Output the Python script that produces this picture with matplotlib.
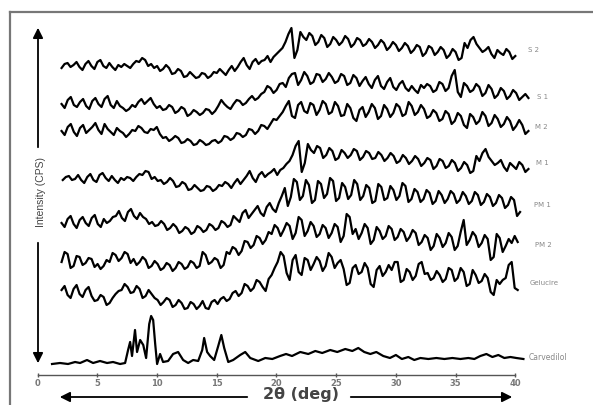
import numpy as np
import matplotlib.pyplot as plt

# XRD patterns, intensity in arbitrary units
s2 = [12, 16, 17, 13, 15, 18, 13, 10, 16, 19, 14, 11, 18, 20, 14, 12, 17, 13, 10, 15,
      13, 16, 14, 12, 16, 19, 18, 22, 20, 14, 16, 12, 14, 9, 11, 15, 12, 6, 7, 11,
      9, 3, 4, 8, 5, 2, 3, 7, 6, 2, 4, 8, 7, 11, 8, 5, 10, 14, 9, 13,
      18, 22, 15, 11, 18, 21, 16, 19, 20, 24, 18, 23, 26, 29, 32, 38, 46, 52, 22, 30,
      48, 43, 40, 47, 44, 35, 38, 45, 42, 33, 36, 43, 40, 35, 38, 44, 41, 33, 36, 42,
      40, 34, 36, 41, 38, 32, 35, 40, 37, 30, 33, 38, 35, 29, 32, 37, 34, 27, 30, 35,
      33, 24, 27, 34, 32, 25, 28, 33, 30, 22, 25, 31, 28, 20, 22, 37, 32, 40, 43, 36,
      32, 28, 30, 33, 26, 22, 30, 27, 25, 31, 28, 21, 24]
s1 = [14, 10, 18, 21, 13, 11, 16, 19, 12, 9, 17, 20, 14, 11, 19, 22, 13, 10, 17, 12,
      10, 7, 9, 13, 11, 16, 19, 14, 17, 20, 14, 10, 12, 8, 9, 13, 11, 5, 7, 11,
      9, 2, 4, 8, 6, 3, 5, 9, 8, 4, 7, 12, 18, 14, 11, 9, 14, 18, 17, 13,
      15, 19, 22, 18, 20, 24, 26, 32, 30, 25, 28, 34, 35, 31, 40, 44, 45, 33, 38, 46,
      42, 34, 36, 44, 43, 36, 39, 45, 41, 35, 37, 44, 42, 33, 35, 43, 40, 32, 37, 41,
      34, 30, 38, 42, 32, 29, 36, 40, 31, 28, 34, 37, 30, 27, 32, 28, 25, 33, 30, 34,
      32, 26, 28, 36, 34, 27, 30, 42, 48, 26, 21, 35, 32, 26, 28, 34, 31, 22, 25, 33,
      29, 20, 23, 30, 27, 19, 22, 28, 25, 18, 21, 24, 20]
m2 = [15, 11, 19, 22, 14, 10, 18, 21, 13, 16, 19, 23, 16, 12, 22, 17, 14, 11, 18, 15,
      13, 9, 12, 16, 15, 20, 18, 14, 13, 17, 16, 19, 12, 8, 9, 5, 7, 10, 8, 3,
      4, 7, 5, 1, 2, 6, 4, 1, 2, 5, 6, 3, 5, 10, 9, 6, 8, 13, 12, 9,
      11, 17, 16, 12, 15, 21, 20, 17, 22, 27, 26, 30, 34, 40, 45, 30, 28, 41, 44, 35,
      33, 43, 41, 31, 36, 45, 42, 32, 34, 44, 40, 30, 31, 42, 38, 28, 25, 36, 39, 29,
      34, 42, 38, 27, 30, 41, 37, 29, 33, 42, 39, 30, 32, 44, 40, 31, 34, 41, 37, 28,
      30, 36, 33, 25, 27, 35, 32, 22, 25, 33, 30, 21, 18, 32, 29, 22, 25, 34, 30, 20,
      23, 31, 27, 19, 22, 29, 25, 16, 20, 26, 21, 12, 15]
m1 = [13, 16, 17, 13, 14, 18, 13, 10, 16, 19, 13, 11, 18, 20, 15, 12, 17, 13, 10, 15,
      13, 16, 15, 12, 16, 19, 18, 22, 21, 14, 16, 12, 13, 9, 11, 15, 12, 6, 7, 11,
      9, 3, 4, 8, 5, 2, 3, 7, 6, 2, 4, 8, 7, 11, 9, 5, 10, 14, 9, 13,
      17, 22, 15, 11, 18, 21, 16, 19, 21, 24, 18, 23, 25, 29, 32, 38, 47, 52, 21, 30,
      49, 43, 40, 47, 45, 35, 38, 45, 42, 33, 35, 43, 40, 35, 38, 44, 42, 33, 36, 42,
      40, 34, 35, 41, 38, 32, 35, 40, 37, 30, 32, 38, 35, 29, 32, 37, 34, 27, 30, 35,
      33, 24, 27, 34, 32, 25, 27, 33, 30, 22, 25, 31, 28, 20, 22, 37, 32, 40, 44, 36,
      32, 28, 30, 33, 26, 22, 30, 27, 24, 31, 28, 21, 24]
pm1 = [13, 9, 17, 20, 12, 8, 16, 19, 13, 10, 18, 21, 12, 9, 17, 13, 15, 19, 20, 25,
       18, 15, 24, 27, 20, 17, 23, 19, 17, 12, 14, 10, 11, 15, 12, 6, 8, 12, 9, 3,
       5, 9, 7, 2, 4, 10, 8, 4, 6, 12, 10, 6, 8, 15, 13, 9, 11, 20, 17, 14,
       23, 26, 18, 22, 26, 30, 23, 20, 29, 33, 27, 24, 33, 40, 48, 30, 39, 57, 54, 36,
       40, 56, 51, 33, 36, 55, 52, 38, 42, 58, 55, 35, 38, 53, 49, 37, 41, 56, 52, 36,
       40, 51, 48, 33, 35, 52, 49, 36, 38, 50, 46, 36, 40, 53, 50, 34, 37, 47, 44, 34,
       37, 46, 43, 32, 35, 45, 41, 33, 37, 45, 42, 33, 36, 44, 40, 32, 35, 44, 41, 31,
       34, 42, 39, 30, 33, 41, 38, 28, 31, 39, 36, 20, 24]
pm2 = [10, 20, 18, 4, 6, 16, 15, 7, 9, 14, 13, 5, 8, 3, 6, 12, 10, 19, 17, 11,
       14, 20, 18, 9, 13, 7, 10, 15, 12, 4, 6, 11, 8, 2, 4, 9, 7, 1, 4, 10,
       8, 3, 5, 11, 9, 4, 6, 20, 17, 8, 10, 14, 12, 4, 7, 20, 18, 25, 23, 17,
       21, 31, 30, 24, 27, 36, 34, 28, 32, 40, 38, 47, 44, 36, 42, 49, 46, 33, 39, 55,
       52, 36, 41, 50, 46, 35, 38, 47, 44, 34, 39, 48, 45, 30, 36, 58, 55, 38, 43, 33,
       39, 48, 44, 28, 32, 45, 41, 33, 36, 46, 43, 32, 35, 43, 40, 31, 35, 42, 39, 27,
       30, 37, 34, 22, 26, 38, 34, 25, 29, 39, 35, 22, 26, 40, 52, 27, 32, 40, 36, 25,
       29, 37, 33, 12, 15, 38, 34, 20, 26, 33, 29, 36, 30]
gelucire = [20, 24, 15, 12, 21, 25, 16, 13, 20, 23, 14, 9, 10, 15, 13, 5, 7, 12, 16, 19,
            20, 26, 23, 17, 18, 24, 21, 12, 14, 20, 16, 12, 10, 5, 8, 12, 10, 3, 5, 10,
            7, 1, 2, 8, 6, 1, 4, 9, 2, 1, 8, 10, 6, 11, 13, 9, 11, 17, 19, 14,
            17, 26, 24, 19, 22, 30, 28, 23, 19, 31, 35, 42, 48, 58, 54, 37, 30, 50, 55, 38,
            35, 52, 50, 40, 46, 53, 49, 39, 44, 57, 53, 42, 47, 50, 41, 25, 27, 42, 45, 36,
            38, 47, 42, 26, 23, 40, 44, 34, 38, 45, 40, 48, 48, 28, 30, 41, 38, 30, 34, 46,
            48, 36, 37, 30, 32, 39, 35, 28, 31, 42, 40, 29, 32, 42, 38, 24, 26, 40, 35, 27,
            29, 36, 32, 18, 15, 30, 26, 30, 32, 45, 48, 22, 20]

carv_theta = [1.2, 1.87, 2.54, 3.13, 3.55, 4.13, 4.64, 5.22, 5.81, 6.31, 6.9, 7.32, 7.57,
              7.74, 7.9, 8.15, 8.32, 8.58, 8.84, 9.08, 9.34, 9.5, 9.67, 9.84, 10.0, 10.25,
              10.5, 10.92, 11.34, 11.76, 12.18, 12.6, 13.02, 13.44, 13.78, 13.94, 14.19,
              14.44, 14.78, 15.12, 15.38, 15.62, 15.96, 16.37, 16.96, 17.38, 17.8, 18.47,
              19.06, 19.65, 20.3, 20.8, 21.3, 21.99, 22.66, 23.25, 23.83, 24.5, 25.09,
              25.76, 26.35, 26.85, 27.35, 27.86, 28.36, 28.94, 29.5, 30.0, 30.5, 31.04,
              31.54, 32.05, 32.72, 33.39, 34.06, 34.73, 35.4, 36.07, 36.57, 37.07, 37.58,
              38.08, 38.58, 39.08, 39.59, 40.09, 40.68]
carvedilol = [0, 1, 0, 2, 1, 4, 1, 3, 1, 2, 0, 1, 14, 22, 8, 34, 12, 24, 19, 6, 40, 48,
              44, 20, 0, 10, 2, 3, 10, 12, 4, 1, 4, 3, 14, 26, 12, 8, 4, 18, 29, 16, 2,
              4, 9, 12, 6, 3, 6, 5, 8, 10, 8, 12, 10, 13, 11, 14, 12, 15, 13, 16, 12, 10,
              12, 8, 6, 9, 5, 7, 4, 6, 5, 6, 5, 6, 5, 6, 5, 8, 10, 7, 9, 6, 7, 6, 5]

names = ['S 2', 'S 1', 'M 2', 'M 1', 'PM 1', 'PM 2', 'Gelucire']
patterns = [s2, s1, m2, m1, pm1, pm2, gelucire]
theta_start = [2.0, 2.0, 2.0, 2.1, 2.0, 2.0, 2.0]
theta_end = [40.0, 41.1, 41.1, 41.1, 40.4, 40.2, 40.2]
ticks = [0, 5, 10, 15, 20, 25, 30, 35, 40]

# layout (pixel rows of each stacked pattern and its label)
offsets = [80, 118, 146, 193, 236, 272, 310]
carv_offset = 364
label_xy = [(528, 50), (537, 97), (535, 127), (536, 163), (534, 205), (535, 245), (530, 283)]

W, H = 593, 405
x0_px, px_per_deg = 37.7, 11.94

fig = plt.figure(figsize=(W / 100, H / 100), dpi=100)

# data axes: x in degrees, y in pixel rows (stacked offsets)
ax = fig.add_axes([0, 0, 1, 1])
ax.set_xlim(-x0_px / px_per_deg, (W - x0_px) / px_per_deg)
ax.set_ylim(H, 0)
ax.axis('off')

for vals, t0, t1, off in zip(patterns, theta_start, theta_end, offsets):
    theta = np.linspace(t0, t1, len(vals))
    ax.plot(theta, off - np.array(vals), color='black', lw=1.6, solid_joinstyle='round')

ax.plot(carv_theta, carv_offset - np.array(carvedilol), color='black', lw=1.6)

# x axis with ticks
ax.plot([0, 40], [374.5, 374.5], color='#555555', lw=1.0)
ax.vlines(ticks, 372.5, 376.5, color='#555555', lw=1.0)
for t in ticks:
    ax.text(t, 384, str(t), ha='center', va='center', fontsize=6,
            color='#777777', fontweight='bold')

# overlay in pixel coordinates for frame, arrows and labels
px = fig.add_axes([0, 0, 1, 1], facecolor='none')
px.set_xlim(0, W)
px.set_ylim(H, 0)
px.axis('off')

px.plot([10, W], [12, 12], color='#777777', lw=1.6)
px.plot([10, 10], [12, H], color='#777777', lw=1.6)

arrow = dict(arrowstyle='-|>', color='black', lw=1.3, mutation_scale=15)
px.annotate('', xy=(38, 25), xytext=(38, 150), arrowprops=arrow)
px.annotate('', xy=(38, 366), xytext=(38, 240), arrowprops=arrow)
px.text(41, 192, 'Intensity (CPS)', rotation=90, ha='center', va='center',
        fontsize=7.5, color='#444444', family='Liberation Sans')

px.annotate('', xy=(57, 397), xytext=(250, 397), arrowprops=arrow)
px.annotate('', xy=(515, 397), xytext=(348, 397), arrowprops=arrow)
px.text(301, 395, '2θ (deg)', ha='center', va='center', fontsize=11.5,
        color='#444444', fontweight='bold')

for name, (lx, ly) in zip(names, label_xy):
    px.text(lx, ly, name, ha='left', va='center', fontsize=5, color='#888888')
px.text(529, 357, 'Carvedilol', ha='left', va='center', fontsize=5.5, color='#888888')

fig.savefig('out.png', dpi=100)
